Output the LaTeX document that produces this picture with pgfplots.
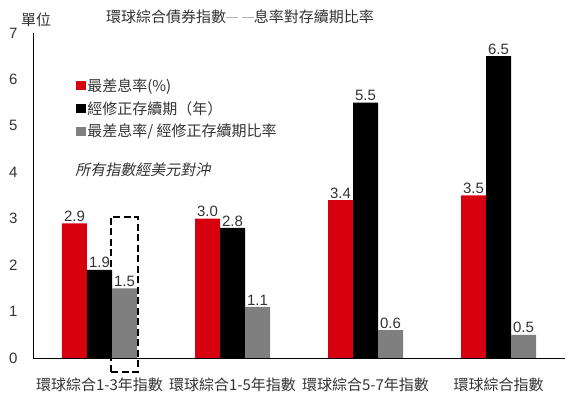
\documentclass[border=0pt]{standalone}
\usepackage{pgfplots}
\pgfplotsset{compat=1.18}
\usepackage{fontspec}
\setmainfont{Liberation Sans}
\newfontfamily\cjk{Noto Sans CJK TC}
\newfontfamily\cjkit[FakeSlant=0.2]{Noto Sans CJK TC}
\definecolor{cred}{HTML}{D7000F}
\definecolor{cgray}{HTML}{7F7F7F}
\definecolor{ctext}{HTML}{333333}
\begin{document}
\begin{tikzpicture}
\begin{axis}[
  scale only axis, width=532pt, height=325pt,
  xmin=-0.5, xmax=3.5, ymin=0, ymax=7,
  axis x line*=bottom, axis y line*=left,
  axis line style={-, black, line width=0.8pt},
  ybar=0pt, bar width=25pt,
  xtick={0,1,2,3},
  xticklabels={環球綜合1-3年指數, 環球綜合1-5年指數, 環球綜合5-7年指數, 環球綜合指數},
  ytick={0,1,2,3,4,5,6,7},
  major tick length=0pt,
  /pgf/number format/assume math mode=true,
  yticklabel style={font=\fontsize{15}{18}\selectfont, text=ctext, xshift=-12pt},
  xticklabel style={font=\cjk\fontsize{15}{18}\selectfont, text=ctext, anchor=north, yshift=-16pt},
  nodes near coords={\pgfmathprintnumber[fixed,fixed zerofill,precision=1]{\pgfplotspointmeta}},
  nodes near coords style={font=\fontsize{15}{18}\selectfont, text=ctext, inner sep=1.5pt},
  clip=false,
  legend style={at={(rel axis cs:0.081,0.865)}, anchor=north west, draw=none, fill=none,
    font=\cjk\fontsize{15}{18}\selectfont, text=ctext, row sep=5.5pt, inner sep=0pt,
    nodes={inner sep=1.5pt}},
  legend cell align=left,
]
\addplot[fill=cred, draw=none, legend image code/.code={\fill[cred] (0pt,-4.5pt) rectangle (9.5pt,4.5pt);}]
  coordinates {(0,2.9) (1,3.0) (2,3.4) (3,3.5)};
\addplot[fill=black, draw=none, legend image code/.code={\fill[black] (0pt,-4.5pt) rectangle (9.5pt,4.5pt);}]
  coordinates {(0,1.9) (1,2.8) (2,5.5) (3,6.5)};
\addplot[fill=cgray, draw=none, legend image code/.code={\fill[cgray] (0pt,-4.5pt) rectangle (9.5pt,4.5pt);}]
  coordinates {(0,1.5) (1,1.1) (2,0.6) (3,0.5)};
\legend{最差息率(\%), 經修正存續期（年）, 最差息率/ 經修正存續期比率}
\draw[black, line width=2.4pt, dash pattern=on 7pt off 3.5pt]
  (axis cs:0.086,-0.30) rectangle (axis cs:0.289,3.04);
\node[anchor=west, font=\cjkit\fontsize{15}{18}\selectfont, text=ctext] at (rel axis cs:0.073,0.578) {所有指數經美元對沖};
\node[font=\cjk\fontsize{15}{18}\selectfont, text=ctext, yshift=16pt] at (rel axis cs:0.389,1)
  {環球綜合債券指數{\color{gray!60}\rule[0.3em]{0.8em}{1.2pt}\hspace{0.25em}\rule[0.3em]{0.8em}{1.2pt}}息率對存續期比率};
\node[font=\cjk\fontsize{15}{18}\selectfont, text=ctext, yshift=13pt] at (rel axis cs:0.006,1) {單位};
\end{axis}
\path ([xshift=-33pt,yshift=-37pt]current axis.south west) rectangle ([xshift=4pt,yshift=33pt]current axis.north east);
\end{tikzpicture}
\end{document}
